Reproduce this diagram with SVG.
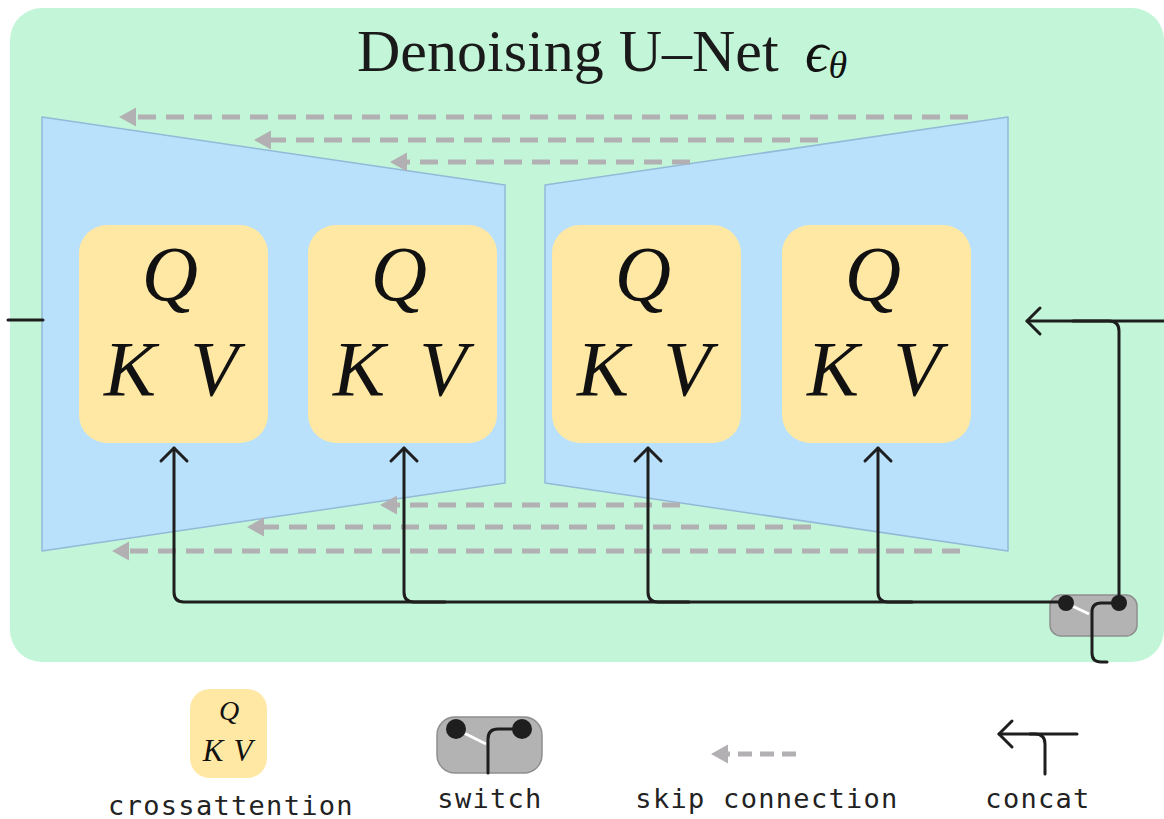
<svg xmlns="http://www.w3.org/2000/svg" width="1164" height="819" viewBox="0 0 1164 819">
<style>
.trap{fill:#b9e1fc;stroke:#93b9d9;stroke-width:1.5;stroke-linejoin:round}
.box{fill:#fee8a4}
.m{font-family:"Liberation Serif","Times New Roman",serif;font-style:italic;fill:#111;text-anchor:middle}
.big{font-size:78px}
.lbl{font-family:"DejaVu Sans Mono","Liberation Mono",monospace;font-size:27px;letter-spacing:1.3px;fill:#222;text-anchor:middle}
.skip{fill:none;stroke:#b3b0b3;stroke-width:5;stroke-dasharray:18 10}
.blk{fill:none;stroke:#1e1e1e;stroke-width:3;stroke-linecap:round;stroke-linejoin:round}
.sw{fill:#b3b3b3;stroke:#8e8e8e;stroke-width:1.5}
</style>
<defs>
<marker id="ah" markerUnits="userSpaceOnUse" markerWidth="34" markerHeight="34" viewBox="-17 -17 34 34" refX="0" refY="0" orient="auto" overflow="visible">
<path d="M -13,-13 L 0,0 L -13,13" fill="none" stroke="#1e1e1e" stroke-width="3" stroke-linecap="round" stroke-linejoin="round"/>
</marker>
<marker id="gh" markerUnits="userSpaceOnUse" markerWidth="34" markerHeight="34" viewBox="-17 -17 34 34" refX="0" refY="0" orient="auto" overflow="visible">
<path d="M 11,0 L -6,-9.5 L -6,9.5 Z" fill="#b3b0b3"/>
</marker>
</defs>

<g id="unet-bg">
<rect x="10" y="8" width="1154" height="654" rx="32" fill="#c3f6d8"/>
<text x="357" y="71" font-family="'Liberation Serif','Times New Roman',serif" font-size="60" fill="#1a1a1a">Denoising U–Net</text>
<text x="805" y="71" font-family="'Liberation Serif','Times New Roman',serif" font-style="italic" font-size="58" fill="#111">ϵ<tspan font-size="38" dy="7">θ</tspan></text>
</g>

<g id="encoder"><polygon class="trap" points="42,117 505,185 505,483 42,551"/></g>
<g id="decoder"><polygon class="trap" points="545,185 1008,117 1008,551 545,483"/></g>

<g id="ca1"><rect class="box" x="79" y="225" width="189" height="218" rx="28"/>
<text class="m big" x="170" y="300">Q</text><text class="m big" x="130" y="395">K</text><text class="m big" x="214" y="395">V</text></g>
<g id="ca2"><rect class="box" x="308" y="225" width="189" height="218" rx="28"/>
<text class="m big" x="399" y="300">Q</text><text class="m big" x="359" y="395">K</text><text class="m big" x="443" y="395">V</text></g>
<g id="ca3"><rect class="box" x="552" y="225" width="189" height="218" rx="28"/>
<text class="m big" x="643" y="300">Q</text><text class="m big" x="603" y="395">K</text><text class="m big" x="687" y="395">V</text></g>
<g id="ca4"><rect class="box" x="782" y="225" width="189" height="218" rx="28"/>
<text class="m big" x="873" y="300">Q</text><text class="m big" x="833" y="395">K</text><text class="m big" x="917" y="395">V</text></g>

<g id="switch">
<rect class="sw" x="1050" y="595" width="87" height="41" rx="11"/>
<line x1="1066" y1="603" x2="1089" y2="614" stroke="#fff" stroke-width="3"/>
</g>

<g id="connectors">
<path class="skip" d="M 968,117 H 130" marker-end="url(#gh)"/>
<path class="skip" d="M 818,140 H 265" marker-end="url(#gh)"/>
<path class="skip" d="M 690,162 H 401" marker-end="url(#gh)"/>
<path class="skip" d="M 680,505 H 391" marker-end="url(#gh)"/>
<path class="skip" d="M 811,527 H 258" marker-end="url(#gh)"/>
<path class="skip" d="M 960,551 H 123" marker-end="url(#gh)"/>

<path class="blk" d="M 8,320 H 43"/>
<path class="blk" d="M 1066,602 H 184 Q 174,602 174,592 V 448" marker-end="url(#ah)"/>
<path class="blk" d="M 445,602 H 414 Q 404,602 404,592 V 448" marker-end="url(#ah)"/>
<path class="blk" d="M 689,602 H 658 Q 648,602 648,592 V 448" marker-end="url(#ah)"/>
<path class="blk" d="M 912,602 H 888 Q 878,602 878,592 V 448" marker-end="url(#ah)"/>
<path class="blk" d="M 1166,321 H 1027" marker-end="url(#ah)"/>
<path class="blk" d="M 1119,603 V 331 Q 1119,321 1109,321 H 1073"/>
<path class="blk" d="M 1119,603 H 1101 Q 1092,603 1092,612 V 653 Q 1092,662 1101,662 H 1107"/>
<circle cx="1066" cy="603" r="8" fill="#1e1e1e"/>
<circle cx="1119" cy="603" r="8" fill="#1e1e1e"/>
</g>

<g id="legend-crossattention">
<rect class="box" x="190" y="689" width="77" height="89" rx="20"/>
<text class="m" x="229" y="720" font-size="28">Q</text>
<text class="m" x="213" y="761" font-size="31">K</text>
<text class="m" x="243" y="761" font-size="31">V</text>
<text class="lbl" x="231" y="815">crossattention</text>
</g>
<g id="legend-switch">
<rect class="sw" x="437" y="717" width="105" height="56" rx="18"/>
<line x1="456" y1="729" x2="486" y2="744" stroke="#fff" stroke-width="3"/>
<path class="blk" d="M 522,729 H 498 Q 488,729 488,739 V 773" stroke-width="3.5"/>
<circle cx="456" cy="729" r="10" fill="#1e1e1e"/>
<circle cx="522" cy="729" r="10" fill="#1e1e1e"/>
<text class="lbl" x="490" y="808">switch</text>
</g>
<g id="legend-skip">
<path d="M 796,754 H 722" fill="none" stroke="#b3b0b3" stroke-width="5" stroke-dasharray="14 8" marker-end="url(#gh)"/>
<text class="lbl" x="767" y="808">skip connection</text>
</g>
<g id="legend-concat">
<path class="blk" d="M 1077,734 H 999" marker-end="url(#ah)"/>
<path class="blk" d="M 1045,774 V 744 Q 1045,734 1035,734 H 1030"/>
<text class="lbl" x="1038" y="808">concat</text>
</g>
</svg>
